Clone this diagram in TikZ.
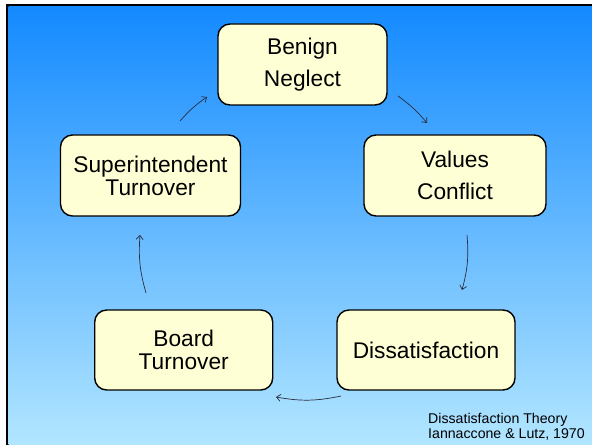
\documentclass[tikz,border=0pt]{standalone}
\usepackage{fontspec}
\setmainfont{Liberation Sans}
\usetikzlibrary{arrows.meta}
\definecolor{bgtop}{RGB}{20,138,255}
\definecolor{bgbot}{RGB}{178,230,255}
\definecolor{boxfill}{RGB}{255,255,214}
\definecolor{arrowcol}{RGB}{40,45,60}
\begin{document}
\begin{tikzpicture}[x=1bp,y=-1bp,
  stagebox/.style={draw=black, line width=1.4bp, fill=boxfill, rounded corners=12bp,
    minimum width=178bp, minimum height=80bp, inner sep=0pt, align=center,
    font=\fontsize{22.8}{23}\selectfont},
  widebox/.style={stagebox, font=\fontsize{22.8}{32}\selectfont},
  cyclearrow/.style={draw=arrowcol, line width=0.7bp, -{Straight Barb[length=4bp,width=7bp]}}
]
\useasboundingbox (0,0) rectangle (592,445);
\fill[white] (0,0) rectangle (592,445);
\fill[black] (6,4) rectangle (592,445);
\shade[top color=bgtop, bottom color=bgbot] (8.5,7) rectangle (592,445);

\node[widebox, minimum width=169bp, minimum height=81bp] (benign) at (302.5,64.5) {Benign\\Neglect};
\node[stagebox, minimum width=180bp, minimum height=81bp] (supt) at (150.5,175.5) {Superintendent\\Turnover};
\node[widebox, minimum width=182bp, minimum height=81bp] (values) at (455,175.5) {Values\\Conflict};
\node[stagebox] (board) at (183.7,350) {Board\\Turnover};
\node[stagebox] (dissat) at (426,350) {Dissatisfaction};

\coordinate (a1s) at (180,121);
\coordinate (a1e) at (207,97);
\coordinate (a2s) at (398,96);
\coordinate (a2e) at (427,123);
\coordinate (a3s) at (467,235);
\coordinate (a3e) at (462,290);
\coordinate (a4s) at (341,396);
\coordinate (a4e) at (276,397);
\coordinate (a5s) at (146,293);
\coordinate (a5e) at (140,235);

\draw[cyclearrow] (a1s) to[bend left=7] (a1e);
\draw[cyclearrow] (a2s) to[bend left=7] (a2e);
\draw[cyclearrow] (a3s) to[bend left=10] (a3e);
\draw[cyclearrow] (a4s) to[bend left=11] (a4e);
\draw[cyclearrow] (a5s) to[bend left=10] (a5e);

\node[anchor=base west, align=left, inner sep=0pt, font=\fontsize{14.2}{15}\selectfont] (credit) at (428,438) {Dissatisfaction Theory\\Iannaccone \& Lutz, 1970};
\end{tikzpicture}
\end{document}
